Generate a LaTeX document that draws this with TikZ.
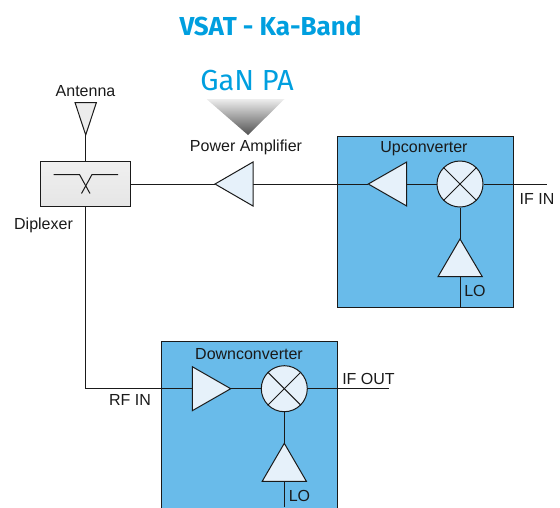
\documentclass[tikz,border=0pt]{standalone}
\usepackage{fontspec}
\setmainfont{Liberation Sans}
\newfontfamily\titlefont{Fira Sans}
\usetikzlibrary{shapes.geometric}
\definecolor{boxblue}{HTML}{69BBEA}
\definecolor{trifill}{HTML}{E6F1FA}
\definecolor{titleblue}{HTML}{009FDF}
\definecolor{inkdark}{HTML}{1A1A1A}
\tikzset{
  wire/.style={draw=inkdark,line width=1pt},
  conv/.style={draw=inkdark,line width=1pt,fill=boxblue},
  amp/.style={draw=inkdark,line width=1pt,fill=trifill,line join=miter},
  mixer/.style={circle,draw=inkdark,line width=1pt,fill=trifill,minimum size=46pt,inner sep=0pt},
  lbl/.style={inner sep=0pt,text=inkdark,font=\fontsize{16}{18}\selectfont},
}
\begin{document}
\begin{tikzpicture}[x=1pt,y=-1pt]
\useasboundingbox (0,0) rectangle (560,507);
% converter boxes
\path[conv] (337.5,136.7) rectangle (513.3,307);
\begin{scope}
\clip (0,0) rectangle (560,507);
\path[conv] (161.7,341) rectangle (337.7,520);
\end{scope}
% named points
\node[draw=inkdark,line width=1pt,top color=gray!12,bottom color=gray!20,minimum width=90.5pt,minimum height=45.5pt,inner sep=0pt] (dip) at (85.7,184) {};
\coordinate (ant) at (85.7,135);
\coordinate (paA) at (215,184);  \coordinate (paB) at (253,184);
\coordinate (uaA) at (368.3,184); \coordinate (uaB) at (406.7,184);
\node[mixer] (umix) at (460,184) {};
\coordinate (ifin) at (547,184);
\coordinate (uloA) at (460,239); \coordinate (uloB) at (460,276.7); \coordinate (uloC) at (460,307);
\coordinate (daA) at (230.7,388.7); \coordinate (daB) at (192.3,388.7);
\node[mixer] (dmix) at (284.3,388.7) {};
\coordinate (ifout) at (389,388.7);
\coordinate (dloA) at (284.3,443.3); \coordinate (dloB) at (284.3,481.3); \coordinate (dloC) at (284.3,507);
\coordinate (corner) at (85.7,388.7);
% connectors
\draw[wire] (ant) -- (dip.north);
\draw[wire] (dip.east) -- (paA);
\draw[wire] (paB) -- (uaA);
\draw[wire] (uaB) -- (umix.west);
\draw[wire] (umix.east) -- (ifin);
\draw[wire] (umix.south) -- (uloA);
\draw[wire] (uloB) -- (uloC);
\draw[wire] (dip.south) -- (corner) -- (daB);
\draw[wire] (daA) -- (dmix.west);
\draw[wire] (dmix.east) -- (ifout);
\draw[wire] (dmix.south) -- (dloA);
\draw[wire] (dloB) -- (dloC);
% mixer crosses
\foreach \m in {umix,dmix}{
  \draw[wire] (\m.north west) -- (\m.south east);
  \draw[wire] (\m.north east) -- (\m.south west);
}
% triangles
\path[amp] (paA) -- (253,162) -- (253,206) -- cycle;
\path[amp] (uaA) -- (406.7,162) -- (406.7,206) -- cycle;
\path[amp] (uloA) -- (438,276.7) -- (482.3,276.7) -- cycle;
\path[amp] (daA) -- (192.3,366.7) -- (192.3,410.7) -- cycle;
\path[amp] (dloA) -- (262.2,481.3) -- (306.4,481.3) -- cycle;
\path[amp,fill=gray!15] (ant) -- (75,102.5) -- (96.4,102.5) -- cycle;
% diplexer symbol
\draw[wire] (53.5,174.5) -- (79.5,174.5) -- (90,193.5);
\draw[wire] (118,174.5) -- (92,174.5) -- (81.5,193.5);
% shaded pointer
\shade[top color=black!7,bottom color=black!68] (206.5,99) -- (284.5,99) -- (248,135) -- cycle;
% text
\node[font=\titlefont\bfseries\fontsize{26}{30}\selectfont,text=titleblue,inner sep=0pt] (title) at (270.5,26) {VSAT - Ka-Band};
\node[font=\titlefont\fontsize{29}{32}\selectfont,text=titleblue,inner sep=0pt] (gan) at (247,81) {GaN PA};
\node[lbl] (tant) at (85.5,91) {Antenna};
\node[lbl] (tpa) at (246,147.5) {Power Amplifier};
\node[lbl] (tdip) at (43.5,225) {Diplexer};
\node[lbl] (tup) at (424,149) {Upconverter};
\node[lbl] (tifin) at (537,199) {IF IN};
\node[lbl] (tlo1) at (475,291) {LO};
\node[lbl] (tdown) at (249,354) {Downconverter};
\node[lbl] (trf) at (130,399.5) {RF IN};
\node[lbl] (tifo) at (368.5,378.5) {IF OUT};
\node[lbl] (tlo2) at (299.5,495.5) {LO};
\end{tikzpicture}
\end{document}
